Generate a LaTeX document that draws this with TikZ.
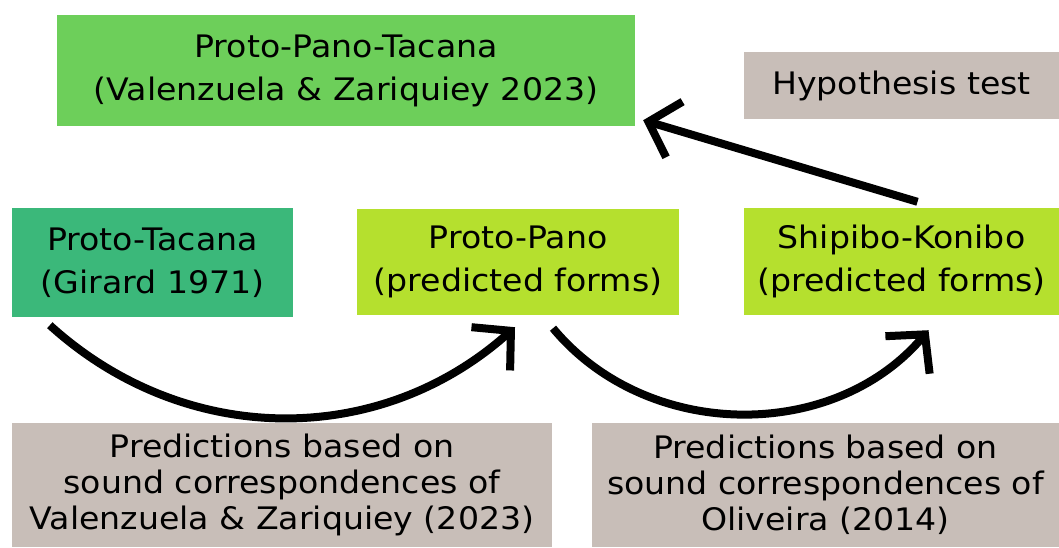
\documentclass[tikz,border=0pt]{standalone}
\usepackage{fontspec}
\setmainfont{DejaVu Sans}[FakeStretch=1.07]
\usepackage{tikz}
\usetikzlibrary{arrows.meta, positioning, calc}
\definecolor{ptGreen}{HTML}{6DCF5A}
\definecolor{tacTeal}{HTML}{3BB87A}
\definecolor{panoLime}{HTML}{B5E02E}
\definecolor{noteGray}{HTML}{C8BEB8}

\begin{document}
\begin{tikzpicture}[
x=1pt, y=1pt,
box/.style={rectangle, inner sep=0pt, align=center, text=black, font=\fontsize{31}{43}\selectfont},
note/.style={box, fill=noteGray, font=\fontsize{31}{36}\selectfont},
arrow/.style={-{Straight Barb[length=27pt, width=58pt]}, line width=8pt}
]
\useasboundingbox (0,0) rectangle (1059,-547);

\node[box, fill=ptGreen, minimum width=578pt, minimum height=111pt] (ppt) at (346,-70.5) {Proto-Pano-Tacana\\(Valenzuela \& Zariquiey 2023)};
\node[note, minimum width=315pt, minimum height=67pt] (hyp) at (901.5,-85.5) {Hypothesis test};

\node[box, fill=tacTeal, minimum width=281pt, minimum height=109pt] (pt) at (152.5,-262.5) {Proto-Tacana\\(Girard 1971)};
\node[box, fill=panoLime, minimum width=322pt, minimum height=106pt] (pp) at (518,-262) {Proto-Pano\\(predicted forms)};
\node[box, fill=panoLime, minimum width=315pt, minimum height=107pt] (sk) at (901.5,-261.5) {Shipibo-Konibo\\(predicted forms)};

\node[note, minimum width=540pt, minimum height=124pt] (predVZ) at (282,-485) {Predictions based on\\sound correspondences of\\Valenzuela \& Zariquiey (2023)};
\node[note, minimum width=467pt, minimum height=124pt] (predOl) at (825.5,-485) {Predictions based on\\sound correspondences of\\Oliveira (2014)};

\draw[arrow] ([xshift=16pt, yshift=6pt]sk.north) -- ([xshift=8pt, yshift=6pt]ppt.south east);
\draw[arrow] ([xshift=38pt, yshift=-8pt]pt.south west) to[bend right=42] ([xshift=-3pt, yshift=-12pt]pp.south);
\draw[arrow] ([xshift=35pt, yshift=-13pt]pp.south) to[bend right=50] ([xshift=27pt, yshift=-15pt]sk.south);
\end{tikzpicture}
\end{document}
